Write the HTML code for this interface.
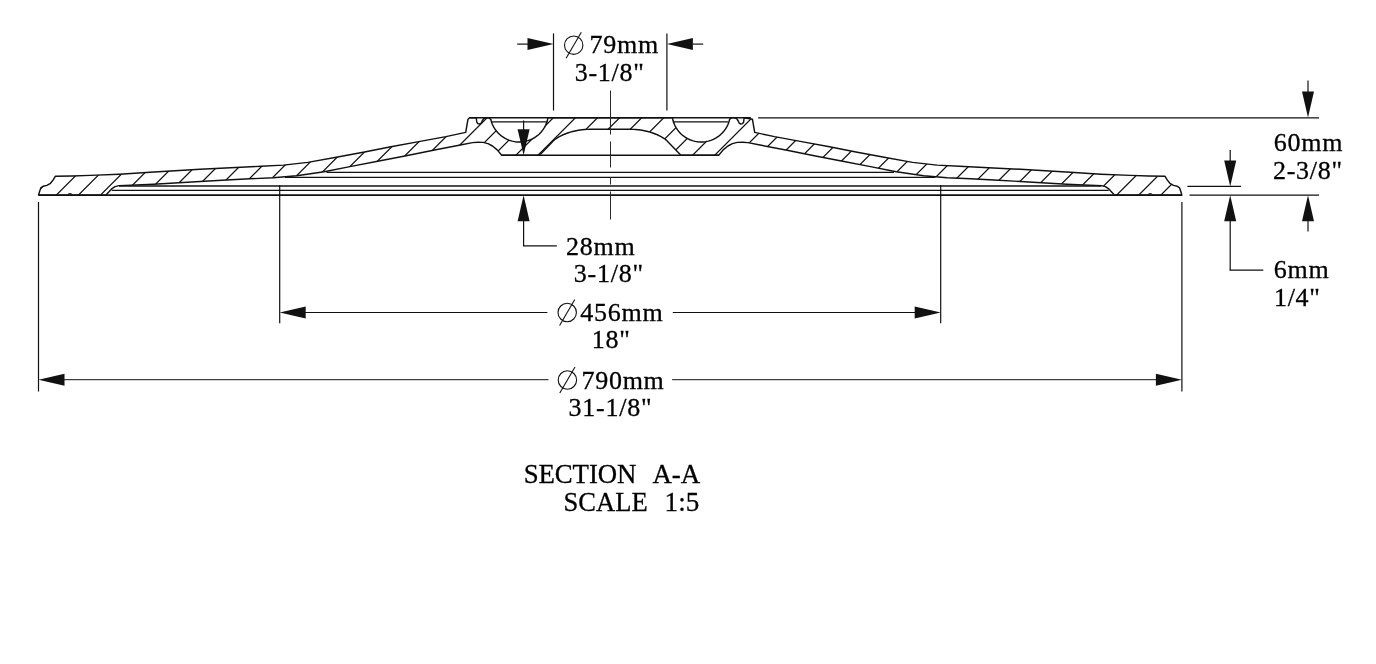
<!DOCTYPE html>
<html><head><meta charset="utf-8"><style>
html,body{margin:0;padding:0;background:#fff;}
body{width:1376px;height:664px;overflow:hidden;}
svg{display:block;will-change:transform;}
text{font-family:"Liberation Serif",serif;font-size:26px;fill:#000;stroke:#000;stroke-width:0.3px;letter-spacing:0.75px;}
</style></head><body>
<svg width="1376" height="664" viewBox="0 0 1376 664">
<defs><clipPath id="sec"><path d="M38.55,195.1 L39.5,191.7 L41,187.6 L43.1,186.3 L46.9,185.4 L50.5,183.3 L53.2,179.9 L55.3,176.3 L72,176 L90,175.4 L119.4,174.2 L150,172.3 L200,169.3 L261,166.3 L283.4,165.1 L307.8,162.4 L336.3,157.3 L364.5,152 L390.9,146.8 L418.8,141.6 L445.9,136.6 L465.7,132.4 L468,119.2 L469.6,117.7 L476.3,117.7 L476.7,121.8 L477.8,123.6 L479.6,124 L481.2,123.2 L482.2,121 L483.5,118.9 L485.5,117.9 L487.3,117.6 L489,117.9 L490.8,119.4 L491.48,121.97 L492.43,124.47 L493.61,126.86 L495,129.14 L496.6,131.29 L498.38,133.27 L500.34,135.09 L502.45,136.72 L504.71,138.15 L507.09,139.37 L509.56,140.36 L512.12,141.13 L514.74,141.66 L517.4,141.94 L520.07,141.99 L522.73,141.79 L525.36,141.34 L527.95,140.66 L530.46,139.74 L532.87,138.6 L535.17,137.25 L537.34,135.68 L539.35,133.93 L541.2,132 L542.86,129.91 L544.33,127.68 L545.58,125.32 L546.61,122.86 L547.42,120.31 L547.99,117.7 L672.41,117.7 L672.98,120.31 L673.79,122.86 L674.82,125.32 L676.07,127.68 L677.54,129.91 L679.2,132 L681.05,133.93 L683.06,135.68 L685.23,137.25 L687.53,138.6 L689.94,139.74 L692.45,140.66 L695.04,141.34 L697.67,141.79 L700.33,141.99 L703,141.94 L705.66,141.66 L708.28,141.13 L710.84,140.36 L713.31,139.37 L715.69,138.15 L717.95,136.72 L720.06,135.09 L722.02,133.27 L723.8,131.29 L725.4,129.14 L726.79,126.86 L727.97,124.47 L728.92,121.97 L729.64,119.4 L729.6,119.4 L731.4,117.9 L733.1,117.6 L734.9,117.9 L736.9,118.9 L738.2,121 L739.2,123.2 L740.8,124 L742.6,123.6 L743.7,121.8 L744.1,117.7 L752.4,119.2 L754.7,132.4 L774.5,136.6 L801.6,141.6 L829.5,146.8 L855.9,152 L884.1,157.3 L912.6,162.4 L937,165.1 L959.4,166.3 L1020.4,169.3 L1070.4,172.3 L1101,174.2 L1130.4,175.4 L1148.4,176 L1165.1,176.3 L1167.2,179.9 L1169.9,183.3 L1173.5,185.4 L1177.3,186.3 L1179.4,187.6 L1180.9,191.7 L1181.85,195.1 L1114.4,195.1 L1111.4,191.8 L1108.4,188.6 L1105.4,186.6 L1101.4,185.6 L1066.8,184.2 L1020.4,181.5 L993.9,180 L970.5,178.8 L947.1,177.7 L923.7,175.8 L896.3,171.8 L869.2,166.4 L842.7,161.2 L814.2,155.7 L787.1,150.3 L760,145 L747.9,142.6 L742.4,142.3 L737.3,142.4 L732.4,143.6 L727.9,146 L723.2,149.9 L718.7,155.2 L680.9,155.2 L668.1,141.9 L667.25,141.04 L666.27,140.16 L665.15,139.28 L663.91,138.4 L662.55,137.53 L661.07,136.66 L659.47,135.82 L657.77,135 L655.96,134.21 L654.05,133.46 L652.05,132.75 L649.95,132.09 L647.77,131.49 L645.5,130.94 L643.15,130.47 L640.73,130.06 L638.24,129.74 L635.69,129.5 L633.07,129.35 L630.4,129.3 L590,129.3 L587.33,129.35 L584.71,129.5 L582.16,129.74 L579.67,130.06 L577.25,130.47 L574.9,130.94 L572.63,131.49 L570.45,132.09 L568.35,132.75 L566.35,133.46 L564.44,134.21 L562.63,135 L560.93,135.82 L559.33,136.66 L557.85,137.53 L556.49,138.4 L555.25,139.28 L554.13,140.16 L553.15,141.04 L552.3,141.9 L539.5,155.2 L501.7,155.2 L497.2,149.9 L492.5,146 L488,143.6 L483.1,142.4 L478,142.3 L472.5,142.6 L460.4,145 L433.3,150.3 L406.2,155.7 L377.7,161.2 L351.2,166.4 L324.1,171.8 L296.7,175.8 L273.3,177.7 L249.9,178.8 L226.5,180 L200,181.5 L153.6,184.2 L119,185.6 L115,186.6 L112,188.6 L109,191.8 L106,195.1 Z"/></clipPath></defs>
<rect width="1376" height="664" fill="#fff"/>
<g clip-path="url(#sec)"><path d="M-59.05,200 L30.95,110 M-36.96,200 L53.04,110 M-14.87,200 L75.13,110 M7.22,200 L97.22,110 M29.31,200 L119.31,110 M51.4,200 L141.4,110 M73.49,200 L163.49,110 M95.58,200 L185.58,110 M117.67,200 L207.67,110 M139.76,200 L229.76,110 M161.85,200 L251.85,110 M183.94,200 L273.94,110 M206.03,200 L296.03,110 M228.12,200 L318.12,110 M250.21,200 L340.21,110 M272.3,200 L362.3,110 M294.39,200 L384.39,110 M316.48,200 L406.48,110 M338.57,200 L428.57,110 M360.66,200 L450.66,110 M382.75,200 L472.75,110 M404.84,200 L494.84,110 M426.93,200 L516.93,110 M449.02,200 L539.02,110 M471.11,200 L561.11,110 M493.2,200 L583.2,110 M515.29,200 L605.29,110 M537.38,200 L627.38,110 M559.47,200 L649.47,110 M581.56,200 L671.56,110 M603.65,200 L693.65,110 M625.74,200 L715.74,110 M647.83,200 L737.83,110 M669.92,200 L759.92,110 M692.01,200 L782.01,110 M714.1,200 L804.1,110 M736.19,200 L826.19,110 M758.28,200 L848.28,110 M780.37,200 L870.37,110 M802.46,200 L892.46,110 M824.55,200 L914.55,110 M846.64,200 L936.64,110 M868.73,200 L958.73,110 M890.82,200 L980.82,110 M912.91,200 L1002.91,110 M935,200 L1025,110 M957.09,200 L1047.09,110 M979.18,200 L1069.18,110 M1001.27,200 L1091.27,110 M1023.36,200 L1113.36,110 M1045.45,200 L1135.45,110 M1067.54,200 L1157.54,110 M1089.63,200 L1179.63,110 M1111.72,200 L1201.72,110 M1133.81,200 L1223.81,110 M1155.9,200 L1245.9,110 M1177.99,200 L1267.99,110 M1200.08,200 L1290.08,110 M1222.17,200 L1312.17,110 M1244.26,200 L1334.26,110 M1266.35,200 L1356.35,110 M1288.44,200 L1378.44,110 M1310.53,200 L1400.53,110 M1332.62,200 L1422.62,110 M1354.71,200 L1444.71,110" stroke="#111" stroke-width="1.25" fill="none"/></g>
<path d="M38.55,195.1 L39.5,191.7 L41,187.6 L43.1,186.3 L46.9,185.4 L50.5,183.3 L53.2,179.9 L55.3,176.3 L72,176 L90,175.4 L119.4,174.2 L150,172.3 L200,169.3 L261,166.3 L283.4,165.1 L307.8,162.4 L336.3,157.3 L364.5,152 L390.9,146.8 L418.8,141.6 L445.9,136.6 L465.7,132.4 L468,119.2 L469.6,117.7 L476.3,117.7 L476.7,121.8 L477.8,123.6 L479.6,124 L481.2,123.2 L482.2,121 L483.5,118.9 L485.5,117.9 L487.3,117.6 L489,117.9 L490.8,119.4 L491.48,121.97 L492.43,124.47 L493.61,126.86 L495,129.14 L496.6,131.29 L498.38,133.27 L500.34,135.09 L502.45,136.72 L504.71,138.15 L507.09,139.37 L509.56,140.36 L512.12,141.13 L514.74,141.66 L517.4,141.94 L520.07,141.99 L522.73,141.79 L525.36,141.34 L527.95,140.66 L530.46,139.74 L532.87,138.6 L535.17,137.25 L537.34,135.68 L539.35,133.93 L541.2,132 L542.86,129.91 L544.33,127.68 L545.58,125.32 L546.61,122.86 L547.42,120.31 L547.99,117.7 L672.41,117.7 L672.98,120.31 L673.79,122.86 L674.82,125.32 L676.07,127.68 L677.54,129.91 L679.2,132 L681.05,133.93 L683.06,135.68 L685.23,137.25 L687.53,138.6 L689.94,139.74 L692.45,140.66 L695.04,141.34 L697.67,141.79 L700.33,141.99 L703,141.94 L705.66,141.66 L708.28,141.13 L710.84,140.36 L713.31,139.37 L715.69,138.15 L717.95,136.72 L720.06,135.09 L722.02,133.27 L723.8,131.29 L725.4,129.14 L726.79,126.86 L727.97,124.47 L728.92,121.97 L729.64,119.4 L729.6,119.4 L731.4,117.9 L733.1,117.6 L734.9,117.9 L736.9,118.9 L738.2,121 L739.2,123.2 L740.8,124 L742.6,123.6 L743.7,121.8 L744.1,117.7 L752.4,119.2 L754.7,132.4 L774.5,136.6 L801.6,141.6 L829.5,146.8 L855.9,152 L884.1,157.3 L912.6,162.4 L937,165.1 L959.4,166.3 L1020.4,169.3 L1070.4,172.3 L1101,174.2 L1130.4,175.4 L1148.4,176 L1165.1,176.3 L1167.2,179.9 L1169.9,183.3 L1173.5,185.4 L1177.3,186.3 L1179.4,187.6 L1180.9,191.7 L1181.85,195.1 L1114.4,195.1 L1111.4,191.8 L1108.4,188.6 L1105.4,186.6 L1101.4,185.6 L1066.8,184.2 L1020.4,181.5 L993.9,180 L970.5,178.8 L947.1,177.7 L923.7,175.8 L896.3,171.8 L869.2,166.4 L842.7,161.2 L814.2,155.7 L787.1,150.3 L760,145 L747.9,142.6 L742.4,142.3 L737.3,142.4 L732.4,143.6 L727.9,146 L723.2,149.9 L718.7,155.2 L680.9,155.2 L668.1,141.9 L667.25,141.04 L666.27,140.16 L665.15,139.28 L663.91,138.4 L662.55,137.53 L661.07,136.66 L659.47,135.82 L657.77,135 L655.96,134.21 L654.05,133.46 L652.05,132.75 L649.95,132.09 L647.77,131.49 L645.5,130.94 L643.15,130.47 L640.73,130.06 L638.24,129.74 L635.69,129.5 L633.07,129.35 L630.4,129.3 L590,129.3 L587.33,129.35 L584.71,129.5 L582.16,129.74 L579.67,130.06 L577.25,130.47 L574.9,130.94 L572.63,131.49 L570.45,132.09 L568.35,132.75 L566.35,133.46 L564.44,134.21 L562.63,135 L560.93,135.82 L559.33,136.66 L557.85,137.53 L556.49,138.4 L555.25,139.28 L554.13,140.16 L553.15,141.04 L552.3,141.9 L539.5,155.2 L501.7,155.2 L497.2,149.9 L492.5,146 L488,143.6 L483.1,142.4 L478,142.3 L472.5,142.6 L460.4,145 L433.3,150.3 L406.2,155.7 L377.7,161.2 L351.2,166.4 L324.1,171.8 L296.7,175.8 L273.3,177.7 L249.9,178.8 L226.5,180 L200,181.5 L153.6,184.2 L119,185.6 L115,186.6 L112,188.6 L109,191.8 L106,195.1 Z" fill="none" stroke="#111" stroke-width="1.45" stroke-linejoin="round"/>
<g stroke="#111" stroke-linecap="butt">
<line x1="469.6" y1="117.7" x2="750.8" y2="117.7" stroke-width="1.5"/>
<line x1="492" y1="121.8" x2="547.6" y2="121.8" stroke-width="1.3"/>
<line x1="728.4" y1="121.8" x2="672.8" y2="121.8" stroke-width="1.3"/>
<line x1="501.7" y1="155.2" x2="718.7" y2="155.2" stroke-width="1.6"/>
<line x1="326.5" y1="172.4" x2="893.9" y2="172.4" stroke-width="1.3"/>
<line x1="285" y1="177.4" x2="935.4" y2="177.4" stroke-width="1.3"/>
<line x1="119" y1="185.9" x2="1101.4" y2="185.9" stroke-width="1.5"/>
<line x1="111.7" y1="190.3" x2="1108.7" y2="190.3" stroke-width="1.3"/>
<line x1="38.55" y1="195.15" x2="1181.85" y2="195.15" stroke-width="1.6"/>
</g>
<line x1="610.5" y1="90.5" x2="610.5" y2="220.3" stroke="#2e2a22" stroke-width="1" stroke-dasharray="44,7,26,9.5,7.5,7,28"/>
<g stroke="#111">
<line x1="553.5" y1="33.4" x2="553.5" y2="110.5" stroke-width="1.2"/>
<line x1="666.9" y1="33.4" x2="666.9" y2="110.5" stroke-width="1.2"/>
<line x1="517.2" y1="44.1" x2="528" y2="44.1" stroke-width="1.2"/>
<line x1="703.2" y1="44.1" x2="692.4" y2="44.1" stroke-width="1.2"/>
<line x1="758.1" y1="117.8" x2="1319.1" y2="117.8" stroke-width="1.2"/>
<line x1="1189.5" y1="195.2" x2="1319.1" y2="195.2" stroke-width="1.2"/>
<line x1="1308" y1="80.5" x2="1308" y2="93" stroke-width="1.2"/>
<line x1="1308" y1="220" x2="1308" y2="231.6" stroke-width="1.2"/>
<line x1="1187.4" y1="186.4" x2="1241.1" y2="186.4" stroke-width="1.2"/>
<line x1="1230.2" y1="150.1" x2="1230.2" y2="161.5" stroke-width="1.2"/>
<line x1="1230.2" y1="220" x2="1230.2" y2="270.2" stroke-width="1.2"/>
<line x1="1229.6" y1="270.2" x2="1263.3" y2="270.2" stroke-width="1.2"/>
<line x1="523.6" y1="120.5" x2="523.6" y2="130.5" stroke-width="1.2"/>
<line x1="523.6" y1="220" x2="523.6" y2="245.9" stroke-width="1.2"/>
<line x1="523" y1="245.9" x2="556.8" y2="245.9" stroke-width="1.2"/>
<line x1="279.7" y1="185" x2="279.7" y2="323.3" stroke-width="1.2"/>
<line x1="940.7" y1="185" x2="940.7" y2="323.3" stroke-width="1.2"/>
<line x1="305" y1="312.5" x2="547.4" y2="312.5" stroke-width="1"/>
<line x1="672.8" y1="312.5" x2="915.4" y2="312.5" stroke-width="1"/>
<line x1="38.5" y1="202" x2="38.5" y2="391.5" stroke-width="1.2"/>
<line x1="1181.9" y1="202" x2="1181.9" y2="391.5" stroke-width="1.2"/>
<line x1="64" y1="379.7" x2="548.5" y2="379.7" stroke-width="1"/>
<line x1="672.1" y1="379.7" x2="1156.4" y2="379.7" stroke-width="1"/>
</g>
<g fill="#111" stroke="none">
<polygon points="553.5,44.1 527.5,38.1 527.5,50.1"/>
<polygon points="666.9,44.1 692.9,38.1 692.9,50.1"/>
<polygon points="1308,117.6 1302,91.6 1314,91.6"/>
<polygon points="1308,195.2 1302,221.2 1314,221.2"/>
<polygon points="1230.2,186.4 1224.2,160.4 1236.2,160.4"/>
<polygon points="1230.2,195.2 1224.2,221.2 1236.2,221.2"/>
<polygon points="523.6,155.2 517.6,129.2 529.6,129.2"/>
<polygon points="523.6,195.2 517.6,221.2 529.6,221.2"/>
<polygon points="279.7,312.5 305.7,306.5 305.7,318.5"/>
<polygon points="940.7,312.5 914.7,306.5 914.7,318.5"/>
<polygon points="38.5,379.7 64.5,373.7 64.5,385.7"/>
<polygon points="1181.9,379.7 1155.9,373.7 1155.9,385.7"/>
</g>
<circle cx="573.7" cy="45.2" r="9.2" fill="none" stroke="#111" stroke-width="1.1"/><line x1="566.1" y1="58.2" x2="581.3" y2="32.2" stroke="#111" stroke-width="1.1"/><circle cx="567.2" cy="312.5" r="9.2" fill="none" stroke="#111" stroke-width="1.1"/><line x1="559.6" y1="325.5" x2="574.8" y2="299.5" stroke="#111" stroke-width="1.1"/><circle cx="567.4" cy="380" r="9.2" fill="none" stroke="#111" stroke-width="1.1"/><line x1="559.8" y1="393" x2="575" y2="367" stroke="#111" stroke-width="1.1"/>
<path d="M67.6,194.6 C68.2,193.2 71.6,193.2 72.4,194.6 M1148,194.6 C1148.6,193.2 1151.8,193.2 1152.6,194.6" fill="none" stroke="#111" stroke-width="1"/>
<text x="589.5" y="52.5">79mm</text>
<text x="574.7" y="80.7">3-1/8&quot;</text>
<text x="1273.7" y="151.4">60mm</text>
<text x="1272.9" y="179.4">2-3/8&quot;</text>
<text x="1273.7" y="278.2">6mm</text>
<text x="1273.9" y="305.6">1/4&quot;</text>
<text x="566.1" y="254.6">28mm</text>
<text x="573.8" y="282.3">3-1/8&quot;</text>
<text x="580.2" y="320.7">456mm</text>
<text x="591.7" y="347.6">18&quot;</text>
<text x="581.4" y="388.6">790mm</text>
<text x="568.5" y="415.5">31-1/8&quot;</text>
<text x="523.8" y="482.9" style="font-size:27px;letter-spacing:-0.1px" textLength="112.4" lengthAdjust="spacingAndGlyphs">SECTION</text>
<text x="652.4" y="482.9" style="font-size:27px;letter-spacing:0px" textLength="47.9" lengthAdjust="spacingAndGlyphs">A-A</text>
<text x="563.6" y="510.5" style="font-size:27px;letter-spacing:0px" textLength="84" lengthAdjust="spacingAndGlyphs">SCALE</text>
<text x="664.6" y="510.5" style="font-size:27px;letter-spacing:0px" textLength="34.6" lengthAdjust="spacingAndGlyphs">1:5</text>
</svg>
</body></html>
